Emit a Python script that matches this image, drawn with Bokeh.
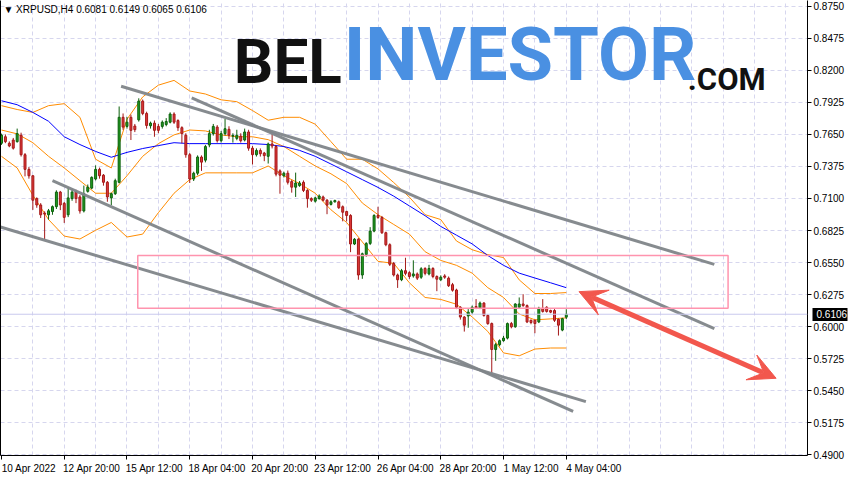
from bokeh.plotting import figure
from bokeh.models import (Range1d, LinearAxis, FixedTicker, Span, Label, Arrow, VeeHead,
                          BoxAnnotation, ColumnDataSource, NumeralTickFormatter)
from bokeh.embed import file_html
from bokeh.resources import INLINE

# ---------------- data (XRPUSD H4) ----------------
opens = [0.7574,0.7630,0.7574,0.7602,0.7588,0.7643,0.7476,0.7350,0.7295,0.7099,
         0.7044,0.6974,0.6960,0.6988,0.7030,0.7155,0.7058,0.6960,0.7099,0.7155,
         0.7113,0.6993,0.7161,0.7189,0.7267,0.7350,0.7300,0.7239,0.7105,0.7141,
         0.7239,0.7797,0.7719,0.7797,0.7722,0.7775,0.7936,0.7830,0.7724,0.7747,
         0.7719,0.7719,0.7735,0.7755,0.7825,0.7769,0.7708,0.7643,0.7476,0.7267,
         0.7317,0.7456,0.7429,0.7560,0.7657,0.7713,0.7596,0.7657,0.7694,0.7635,
         0.7616,0.7635,0.7602,0.7671,0.7532,0.7476,0.7512,0.7490,0.7462,0.7568,
         0.7546,0.7337,0.7295,0.7317,0.7245,0.7197,0.7211,0.7239,0.7169,0.7099,
         0.7077,0.7099,0.7113,0.7085,0.7049,0.7071,0.7071,0.7029,0.6988,0.6954,
         0.6709,0.6750,0.6443,0.6619,0.6714,0.6820,0.6954,0.6937,0.6806,0.6703,
         0.6541,0.6443,0.6402,0.6480,0.6463,0.6435,0.6452,0.6424,0.6499,0.6452,
         0.6499,0.6430,0.6402,0.6435,0.6416,0.6360,0.6314,0.6166,0.6082,0.6091,
         0.6124,0.6172,0.6160,0.6202,0.6096,0.6026,0.5803,0.5845,0.5879,0.5901,
         0.6026,0.5998,0.6166,0.6194,0.6180,0.6054,0.6054,0.6040,0.6157,0.6166,
         0.6138,0.6138,0.6063,0.5970,0.6081]
highs = [0.7657,0.7650,0.7590,0.7620,0.7700,0.7665,0.7490,0.7370,0.7300,0.7110,
         0.7060,0.6990,0.7010,0.7040,0.7170,0.7165,0.7070,0.7197,0.7180,0.7175,
         0.7130,0.7211,0.7220,0.7290,0.7384,0.7365,0.7310,0.7250,0.7150,0.7270,
         0.7890,0.7830,0.7800,0.7820,0.7740,0.7960,0.7950,0.7845,0.7760,0.7770,
         0.7740,0.7770,0.7790,0.7840,0.7840,0.7780,0.7720,0.7660,0.7490,0.7330,
         0.7470,0.7470,0.7560,0.7690,0.7740,0.7730,0.7680,0.7783,0.7720,0.7660,
         0.7690,0.7660,0.7700,0.7690,0.7550,0.7530,0.7530,0.7500,0.7580,0.7657,
         0.7560,0.7350,0.7330,0.7340,0.7260,0.7322,0.7250,0.7255,0.7180,0.7110,
         0.7115,0.7135,0.7125,0.7095,0.7085,0.7090,0.7082,0.7040,0.6995,0.6965,
         0.6760,0.6760,0.6635,0.6725,0.6854,0.6965,0.7029,0.6950,0.6815,0.6715,
         0.6555,0.6455,0.6495,0.6591,0.6475,0.6569,0.6465,0.6510,0.6510,0.6530,
         0.6510,0.6440,0.6440,0.6450,0.6430,0.6375,0.6325,0.6175,0.6090,0.6150,
         0.6180,0.6236,0.6215,0.6210,0.6105,0.6035,0.5860,0.5890,0.5920,0.6035,
         0.6040,0.6200,0.6250,0.6278,0.6190,0.6060,0.6060,0.6170,0.6236,0.6175,
         0.6145,0.6150,0.6070,0.6075,0.6149]
lows = [0.7560,0.7575,0.7540,0.7520,0.7580,0.7460,0.7290,0.7270,0.7002,0.7020,
        0.6932,0.6751,0.6918,0.6960,0.7010,0.7000,0.6890,0.6940,0.7080,0.7060,
        0.6970,0.6980,0.7150,0.7180,0.7255,0.7270,0.7210,0.7072,0.7044,0.7130,
        0.7230,0.7690,0.7700,0.7602,0.7670,0.7760,0.7815,0.7700,0.7700,0.7630,
        0.7660,0.7700,0.7720,0.7745,0.7740,0.7680,0.7574,0.7450,0.7233,0.7250,
        0.7300,0.7337,0.7410,0.7540,0.7640,0.7580,0.7580,0.7640,0.7610,0.7580,
        0.7600,0.7580,0.7590,0.7510,0.7392,0.7460,0.7460,0.7420,0.7400,0.7530,
        0.7290,0.7141,0.7280,0.7220,0.7150,0.7113,0.7200,0.7155,0.7021,0.7070,
        0.7065,0.7090,0.7075,0.6965,0.7040,0.7065,0.7010,0.6904,0.6904,0.6639,
        0.6700,0.6402,0.6410,0.6600,0.6700,0.6810,0.6925,0.6795,0.6690,0.6520,
        0.6430,0.6332,0.6390,0.6440,0.6410,0.6420,0.6400,0.6410,0.6440,0.6440,
        0.6415,0.6304,0.6390,0.6410,0.6340,0.6300,0.6150,0.6060,0.5957,0.5990,
        0.6110,0.6150,0.6150,0.6085,0.6015,0.5598,0.5706,0.5830,0.5870,0.5890,
        0.5985,0.5990,0.6160,0.6170,0.6030,0.6020,0.5943,0.6030,0.6120,0.6120,
        0.6115,0.6040,0.5923,0.5960,0.6065]
closes = [0.7644,0.7588,0.7551,0.7532,0.7657,0.7476,0.7350,0.7295,0.7085,0.7044,
          0.6960,0.6966,0.6994,0.7030,0.7155,0.7044,0.6938,0.7105,0.7155,0.7099,
          0.6993,0.7141,0.7197,0.7281,0.7350,0.7295,0.7239,0.7113,0.7141,0.7253,
          0.7797,0.7713,0.7755,0.7685,0.7691,0.7936,0.7830,0.7727,0.7747,0.7685,
          0.7685,0.7755,0.7761,0.7825,0.7755,0.7708,0.7657,0.7476,0.7267,0.7317,
          0.7456,0.7412,0.7546,0.7657,0.7719,0.7596,0.7657,0.7699,0.7643,0.7641,
          0.7643,0.7596,0.7671,0.7532,0.7476,0.7512,0.7484,0.7468,0.7568,0.7551,
          0.7309,0.7300,0.7317,0.7239,0.7197,0.7233,0.7233,0.7169,0.7099,0.7085,
          0.7105,0.7121,0.7085,0.7043,0.7071,0.7082,0.7021,0.6982,0.6954,0.6709,
          0.6750,0.6443,0.6625,0.6714,0.6820,0.6954,0.6937,0.6806,0.6703,0.6535,
          0.6443,0.6402,0.6480,0.6457,0.6430,0.6452,0.6416,0.6496,0.6457,0.6499,
          0.6430,0.6407,0.6424,0.6424,0.6351,0.6312,0.6166,0.6082,0.6012,0.6124,
          0.6166,0.6160,0.6202,0.6096,0.6026,0.5803,0.5845,0.5879,0.5901,0.6026,
          0.5998,0.6194,0.6194,0.6180,0.6040,0.6035,0.6026,0.6157,0.6130,0.6130,
          0.6124,0.6054,0.6012,0.6068,0.6106]

# indicator values read every 4th bar
band_idx = list(range(0, 145, 4))
bb_upper = [0.7897,0.7864,0.7839,0.7897,0.7914,0.7797,0.7437,0.7362,0.7780,0.7972,
            0.8073,0.8114,0.8023,0.7997,0.7947,0.7931,0.7855,0.7772,0.7797,0.7797,
            0.7738,0.7588,0.7437,0.7437,0.7354,0.7237,0.7111,0.6961,0.6919,0.6735,
            0.6660,0.6618,0.6593,0.6401,0.6284,0.6284,0.6292]
bb_middle = [0.7688,0.7655,0.7579,0.7462,0.7362,0.7253,0.7145,0.7145,0.7295,0.7462,
             0.7571,0.7646,0.7688,0.7680,0.7646,0.7630,0.7630,0.7605,0.7546,0.7462,
             0.7379,0.7312,0.7228,0.7061,0.6961,0.6877,0.6794,0.6643,0.6568,0.6526,
             0.6459,0.6334,0.6250,0.6108,0.6058,0.6066,0.6075]
bb_lower = [0.7462,0.7362,0.7128,0.6919,0.6777,0.6752,0.6827,0.6894,0.6769,0.6794,
            0.6978,0.7145,0.7262,0.7320,0.7320,0.7320,0.7320,0.7379,0.7295,0.7228,
            0.7145,0.7003,0.6894,0.6727,0.6560,0.6543,0.6376,0.6250,0.6233,0.6192,
            0.6083,0.5958,0.5774,0.5749,0.5807,0.5816,0.5816]
ma_blue = [0.7939,0.7905,0.7839,0.7763,0.7630,0.7563,0.7504,0.7454,0.7496,0.7529,
           0.7554,0.7579,0.7571,0.7571,0.7571,0.7571,0.7571,0.7563,0.7546,0.7513,
           0.7462,0.7396,0.7329,0.7262,0.7195,0.7120,0.7036,0.6952,0.6860,0.6785,
           0.6710,0.6610,0.6526,0.6459,0.6417,0.6376,0.6334]

price_ticks = [0.4900,0.5175,0.5450,0.5725,0.6000,0.6275,0.6550,0.6825,
               0.7100,0.7375,0.7650,0.7925,0.8200,0.8475,0.8750]
time_tick_idx = [0,16,32,48,64,80,96,112,128,144]
time_tick_labels = ["10 Apr 2022","12 Apr 20:00","15 Apr 12:00","18 Apr 04:00",
                    "20 Apr 20:00","23 Apr 12:00","26 Apr 04:00","28 Apr 20:00",
                    "1 May 12:00","4 May 04:00"]
last_price = 0.6106
title_text = "▼ XRPUSD,H4  0.6081 0.6149 0.6065 0.6106"

# drawn objects (bar index, price)
trend_x0 = [30.5, 48.5, 13.0, -0.75]
trend_y0 = [0.8064, 0.7964, 0.7253, 0.6860]
trend_x1 = [181.75, 181.75, 145.75, 149.0]
trend_y1 = [0.6534, 0.5983, 0.5272, 0.5356]
zone_left, zone_right, zone_bottom, zone_top = 34.75, 185.25, 0.6158, 0.6610
arrow_x0, arrow_y0, arrow_x1, arrow_y1 = 147.25, 0.6300, 197.5, 0.5556

X_END = 205.5
AX_FONT = "Liberation Sans"

# ---------------- figure ----------------
p = figure(width=850, height=476, output_backend="svg", toolbar_location=None,
           x_range=Range1d(-0.25, X_END), y_range=Range1d(0.4893, 0.8800),
           x_axis_location=None, y_axis_location=None,
           min_border_left=0, min_border_top=0, min_border_right=0, min_border_bottom=0)
p.outline_line_color = None
p.background_fill_color = "white"
p.border_fill_color = "white"

grid_color = "#d6d6ee"
p.xgrid.ticker = FixedTicker(ticks=list(range(8, 206, 8)))
p.ygrid.ticker = FixedTicker(ticks=price_ticks)
for g in (p.xgrid, p.ygrid):
    g.grid_line_color = grid_color
    g.grid_line_dash = "4 3"
    g.grid_line_width = 1

# price axis (right)
yax = LinearAxis(ticker=FixedTicker(ticks=price_ticks),
                 formatter=NumeralTickFormatter(format="0.0000"))
yax.axis_line_color = "black"
yax.major_tick_line_color = "black"
yax.major_tick_out = 4
yax.major_tick_in = 0
yax.minor_tick_line_color = None
yax.major_label_standoff = 2
yax.major_label_text_font = AX_FONT
yax.major_label_text_font_size = "10px"
yax.major_label_text_color = "black"
p.add_layout(yax, "right")

# last-price tag: an outer axis whose single tick points back inwards over the price column
tag = LinearAxis(ticker=FixedTicker(ticks=[last_price]),
                 formatter=NumeralTickFormatter(format="0.0000"))
tag.axis_line_color = None
tag.major_tick_line_color = "black"
tag.major_tick_line_width = 13
tag.major_tick_out = 0
tag.major_tick_in = 35
tag.minor_tick_line_color = None
tag.minor_tick_out = 0
tag.minor_tick_in = 0
tag.major_label_standoff = -31
tag.major_label_text_font = AX_FONT
tag.major_label_text_font_size = "10px"
tag.major_label_text_color = "white"
p.add_layout(tag, "right")

# time axis (labels start at the tick, as in the terminal)
label_shift = 7.0
shifted = [t + label_shift for t in time_tick_idx]
xax = LinearAxis(ticker=FixedTicker(ticks=shifted, minor_ticks=time_tick_idx))
xax.major_label_overrides = {s: lab for s, lab in zip(shifted, time_tick_labels)}
xax.axis_line_color = "black"
xax.major_tick_line_color = None
xax.major_tick_out = 4
xax.major_tick_in = 0
xax.minor_tick_line_color = "black"
xax.minor_tick_out = 4
xax.minor_tick_in = 0
xax.major_label_standoff = 3
xax.major_label_text_font = AX_FONT
xax.major_label_text_font_size = "10px"
xax.major_label_text_color = "black"
p.add_layout(xax, "below")

lax = LinearAxis(ticker=FixedTicker(ticks=[]))
lax.axis_line_color = "black"
lax.major_tick_line_color = None
lax.minor_tick_line_color = None
p.add_layout(lax, "left")

# price line
p.add_layout(Span(location=last_price, dimension="width", line_color="#c9c9ee", line_width=1))

# logo watermark
LOGO_FONT = "Roboto"
p.add_layout(Label(x=59.25, y=0.7964, text="BEL", text_font=LOGO_FONT,
                   text_font_style="bold", text_font_size="62px", text_color="#111111"))
p.add_layout(Label(x=87.25, y=0.7964, text="INVESTOR", text_font=LOGO_FONT,
                   text_font_style="bold", text_font_size="74px", text_color="#4a90e2"))
p.add_layout(Label(x=175.0, y=0.7964, text=".COM", text_font=LOGO_FONT,
                   text_font_style="bold", text_font_size="31px", text_color="#111111"))

# zone rectangle
p.add_layout(BoxAnnotation(left=zone_left, right=zone_right, bottom=zone_bottom, top=zone_top,
                           fill_color=None, fill_alpha=0, line_color="#ff94ae",
                           line_alpha=1.0, line_width=1.5))

# indicators
p.line(band_idx, bb_upper, line_color="#ff8c00", line_width=1)
p.line(band_idx, bb_middle, line_color="#ff8c00", line_width=1)
p.line(band_idx, bb_lower, line_color="#ff8c00", line_width=1)
p.line(band_idx, ma_blue, line_color="#0000ff", line_width=1)

# candles
idx = list(range(len(opens)))
up = [c >= o for o, c in zip(opens, closes)]
src = ColumnDataSource(dict(
    x=idx, o=opens, h=highs, l=lows, c=closes,
    top=[max(o, c) for o, c in zip(opens, closes)],
    bottom=[min(o, c) for o, c in zip(opens, closes)],
    fill=["#22a022" if u else "#e03a3a" for u in up],
    edge=["#0c5f0c" if u else "#a31818" for u in up],
))
p.segment(x0="x", y0="l", x1="x", y1="h", line_color="edge", line_width=1, source=src)
p.vbar(x="x", width=0.5, top="top", bottom="bottom", fill_color="fill",
       line_color="edge", line_width=1, source=src)

# trend lines
p.segment(x0=trend_x0, y0=trend_y0, x1=trend_x1, y1=trend_y1,
          line_color="#7f8589", line_width=3, line_alpha=0.95)

# arrow
ac = "#f2574d"
p.add_layout(Arrow(x_start=arrow_x0, y_start=arrow_y0, x_end=arrow_x1, y_end=arrow_y1,
                   line_color=ac, line_width=5,
                   start=VeeHead(size=27, fill_color=ac, line_color=ac),
                   end=VeeHead(size=27, fill_color=ac, line_color=ac)))

# title
p.add_layout(Label(x=0.5, y=0.8772, text=title_text, text_font=AX_FONT,
                   text_font_size="10px", text_color="black", text_baseline="top"))

open("out.html", "w").write(file_html(p, INLINE))
